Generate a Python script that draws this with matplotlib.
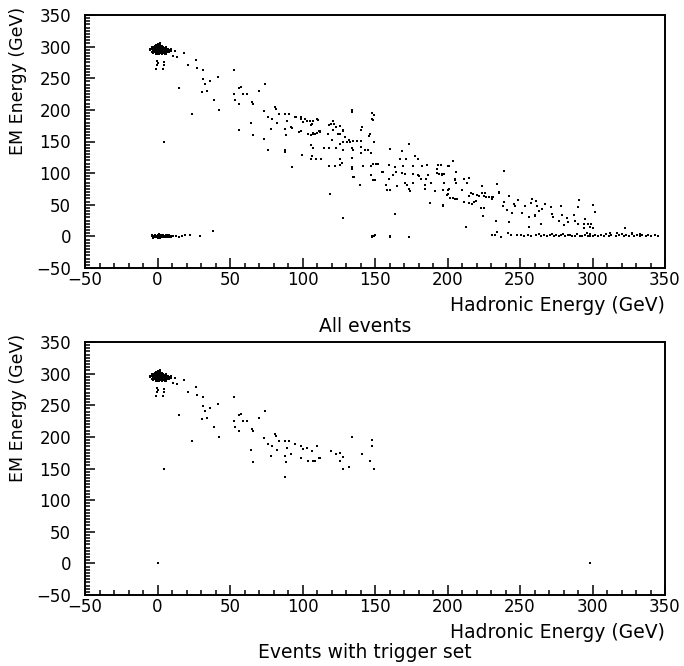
import numpy as np
import matplotlib
matplotlib.use("Agg")
import matplotlib.pyplot as plt
from matplotlib.ticker import MultipleLocator

# --- Datos: (Hadronic Energy, EM Energy) en GeV ---

# Eventos con trigger: nube densa cerca de (0, 295)
trig_cluster = [
    (-4, 296), (-3, 293), (-3, 299), (-2, 291), (-2, 296), (-2, 301), (-1, 288),
    (-1, 294), (-1, 298), (0, 290), (0, 293), (0, 296), (0, 300), (0, 304),
    (1, 289), (1, 292), (1, 295), (1, 298), (1, 302), (2, 290), (2, 294),
    (2, 297), (2, 300), (3, 288), (3, 292), (3, 295), (3, 299), (4, 290),
    (4, 293), (4, 296), (4, 300), (5, 291), (5, 295), (5, 298), (6, 289),
    (6, 293), (6, 297), (7, 291), (7, 295), (8, 293), (-5, 294), (9, 296),
    (2, 306), (-1, 303), (-4, 292), (-4, 299), (-3, 296), (-3, 290), (-2, 294),
    (-2, 298), (-1, 291), (-1, 296), (-1, 300), (0, 288), (0, 298), (0, 302),
    (1, 291), (1, 294), (1, 297), (1, 300), (2, 292), (2, 296), (2, 299),
    (2, 302), (3, 290), (3, 294), (3, 297), (3, 301), (4, 292), (4, 295),
    (4, 298), (5, 289), (5, 293), (5, 297), (6, 291), (6, 295), (6, 299),
    (7, 293), (7, 297), (8, 291), (8, 295), (-5, 297), (9, 293),
]

# Eventos con trigger: resto de puntos
trig_points = [
    (-0.1, 277.3), (0.6, 274.7), (4.5, 275.7), (-0.6, 270.5), (4.5, 270.5),
    (-1, 264), (4, 264), (12, 293), (18.5, 290), (13.6, 283.6), (11, 285),
    (26.6, 279), (21.2, 271), (27.4, 266.9), (31.2, 263), (31.2, 248.6),
    (36.2, 245), (32.8, 240.8), (41.7, 252), (15, 234), (33.9, 230.3),
    (31, 229), (39, 216), (42.6, 200), (23.6, 192.7), (4.5, 149.2),
    (52.8, 262.4), (57.4, 236.6), (56.5, 234), (52.8, 225), (53.2, 215.6),
    (61.5, 225), (59, 225), (56, 209.8), (65.2, 211.8), (66, 210),
    (69.8, 230.3), (74.4, 240.8), (73.4, 199), (81, 204.4), (81.5, 201),
    (76.2, 189), (78.7, 185.7), (84, 193.6), (87.7, 193.6), (91, 193.6),
    (82.6, 179.5), (89.3, 183.2), (64.3, 179), (66, 159.7), (78.1, 170),
    (88.1, 170), (88.6, 161), (88.1, 137), (94.6, 189.5), (99.2, 185.7),
    (100, 181), (103, 182.6), (106.6, 178.3), (109.8, 186), (92.3, 172.7),
    (99.2, 166), (107.5, 162.3), (112, 166.5), (119.4, 178), (123.1, 172.3),
    (126, 174), (125.9, 162.3), (134, 200.5), (147.9, 195.3), (147.9, 184.8),
    (146.6, 161.8), (149.3, 149.2), (131.8, 153), (128.2, 149.2),
    (128, 167.6), (140.8, 173.3), (111.6, 167), (108.6, 161.8), (104, 161.8),
    (0, 0), (298, 0),
]

# Resto de eventos (solo en "All events"): banda diagonal
band_points = [
    (76.2, 136.7), (87.7, 134), (73.4, 154.4), (56, 167.6), (92.8, 109.5),
    (95.3, 189), (99, 189), (101.7, 184.8), (105, 182), (107, 182),
    (110.9, 183.7), (106, 176.4), (92.8, 170.7), (97.6, 165.4), (107.5, 163.8),
    (110, 163.8), (112, 164.4), (105.6, 160), (118, 176), (121, 181.7),
    (121.5, 177), (134, 197.4), (149.3, 192), (148.8, 183.7), (120.8, 167.5),
    (117.8, 161.8), (120.3, 153), (128, 166), (124.6, 162.5), (129, 157.5),
    (131, 150), (132.8, 150), (134.5, 150.5), (140.1, 168.5), (137.3, 151.3),
    (140.5, 151.3), (145.9, 159), (149.3, 149.2), (106, 144.5), (107.5, 139.3),
    (115, 139.3), (118, 139.3), (123, 139.3), (125.6, 145.6), (128, 137),
    (134, 140), (135, 136), (140, 142), (140.5, 132.5), (143, 136),
    (145.5, 137), (147, 132.5), (99.7, 128.8), (106.3, 127.8), (109.5, 122.5),
    (112.5, 122.5), (106, 122.5), (125.9, 122.5), (118.6, 110.5),
    (122.3, 110.5), (125.6, 113), (127, 115.8), (134.4, 123.6), (134, 109),
    (135, 93.8), (141.5, 111), (147.5, 111), (148.8, 114.2), (150.7, 114.2),
    (152.3, 114.2), (147.2, 96.4), (139.7, 81.8), (155.3, 101.7),
    (160.3, 137.8), (159.8, 112.4), (167.2, 122.5), (168.6, 134.6),
    (173.4, 146), (171.4, 122.5), (169.5, 111), (164, 109.5), (164.5, 101),
    (177.6, 127.3), (179.7, 122.5), (175.9, 111), (182.4, 111), (185.6, 113.2),
    (180, 95), (193, 106), (196, 96.4), (194, 98), (200, 111), (193.5, 113),
    (119, 67.6), (128.2, 28.4), (163.6, 35.7), (188, 52.5), (197, 49.3),
    (134.1, 105.8), (135.7, 93.8), (154.8, 101.7), (148.8, 88.5),
    (150.2, 89), (147.4, 96.4), (157.6, 81.8), (158, 72.8), (160.3, 74),
    (159.9, 91.2), (162.6, 96.4), (165, 79.8), (168.6, 100.6), (171, 99),
    (170.6, 85), (172, 81.8), (173.2, 74.4), (174.1, 71.3), (176, 85),
    (176.4, 99), (179.7, 97.5), (181.5, 91.2), (184.3, 80.7), (184.3, 74.4),
    (185.2, 90), (186.6, 96.4), (188.4, 85), (191.2, 71.3), (192.5, 100.6),
    (196.2, 99), (197.6, 83.8), (200.8, 74.4), (200.3, 67.2), (201.7, 60.9),
    (195.3, 113.6), (201.2, 111), (204, 118.4), (205.9, 101.7),
    (197.5, 98), (205.2, 91.2), (205.5, 89), (197.6, 85), (205.9, 83.7),
    (211.4, 91.2), (214.8, 92.7), (213.2, 85), (197, 74), (200.6, 74),
    (199.9, 66), (203.8, 60), (205.2, 59.3), (206.6, 59.3), (210, 74),
    (216, 68.2), (217.3, 67.5), (214.6, 64), (220, 65), (221.4, 64.6),
    (223.6, 68.2), (225.8, 68.6), (225.4, 63.5), (226.7, 61.5), (211.4, 54.7),
    (214.6, 52), (216.8, 51), (218.1, 55), (219.5, 55.6), (222.9, 45.2),
    (225.2, 45.2), (228.6, 62), (230.4, 63), (230.8, 59.5), (231.6, 62),
    (235.7, 68), (235.7, 70.5), (239, 102.7), (234.3, 82.2), (223.8, 79),
    (196.7, 48.3), (224.3, 32), (212.8, 14.3), (233.4, 24.2), (233.8, 6.5),
    (238, 48.3), (238.9, 54.7), (242.2, 63.6), (241.3, 41.3), (244.5, 36.3),
    (242.2, 23.2), (241.7, 5), (248.6, 57.7), (246.7, 48.3), (245.8, 51.5),
    (251.2, 37.4), (253.4, 48.3), (256, 30.5), (256, 14.8), (258.3, 59.8),
    (257.4, 52), (260.1, 32.7), (260.1, 34.5), (261, 56), (262, 48.3),
    (263, 40), (264.3, 19), (265.2, 43), (267.5, 50.4), (271.6, 45.7),
    (272, 35.5), (273, 30), (276.7, 25), (278, 48.3), (279, 34),
    (280.4, 17.3), (282.6, 29), (283, 23.5), (287.2, 33.6), (287.7, 25),
    (290, 19.8), (290.5, 57.2), (290, 46.5), (295, 26.9), (294, 19.3),
    (297.1, 18.8), (299.2, 19.3), (300.6, 49.3), (301.5, 37.8), (294, 14),
    (298, 14.5), (300.6, 12.8), (322.4, 12.8), (296, 5), (312, 6),
    (317, 5.5), (327, 6), (333, 4.5),
]

# Resto de eventos: nube en EM ~ 0 y banda baja a la derecha
low_points = [
    (-4, 0), (-3, -1), (-3, 1), (-2, 0), (-2, 2), (-1, -1), (-1, 1), (0, -2),
    (0, 2), (1, -1), (1, 1), (2, 0), (2, -2), (2, 2), (3, -1), (3, 1), (4, 0),
    (4, 2), (5, -1), (5, 1), (6, 0), (6, 2), (7, -1), (7, 1), (8, 0), (9, 1),
    (10, 0), (-4, 1.5), (-3, -2), (-2, -1.5), (-1, 0), (0, 1), (1, 0),
    (1, 2.5), (2, -1), (3, 0), (3, 2.5), (4, -1.5), (5, 0), (6, -1.5), (7, 2),
    (8, -1), (8, 1.5), (9, -0.5), (11, 1), (12.5, 0.5), (15, -0.5), (17, 1),
    (19, 1.5), (22.4, 1.5), (29.3, 0), (38, 8.6), (1, 4.5), (147.7, 0.2),
    (149.2, 0.7), (150, 1.5), (148, -1.4), (160, -1.4), (160.4, 0.5),
    (173.2, -0.3), (247.7, 2.3),
    (230.4, 2.8), (233, 2.8), (237, -0.5), (243.6, 1.5), (250.5, 1.5),
    (252.6, 0.5), (255.5, 2.8), (257.5, 0.5), (260.8, 1.5), (263, 3.5),
    (264.5, 1), (266.8, 2.5), (268.8, 0.5), (270.5, 1.5), (272, 3),
    (273.5, 1), (275, 2), (276.6, 0), (278, 1.5), (279.8, 3), (281.2, 0.5),
    (283, 1.5), (284.4, 2.5), (286, 0), (288, 1), (289.6, 3.2), (291.4, 1),
    (293, 0.2), (295, 2.2), (296.8, 1), (298.5, 3.5), (300, 0.5), (302, 1.5),
    (304, 0), (306, 2.5), (308, 1), (309.6, 3), (311.3, 0), (313, 1.5),
    (316, 0.5), (318.4, 2), (320, 4), (321.8, 1), (323.4, 2.5), (325, 0),
    (327, 3), (328.7, 1), (330.4, 2), (332.6, 0.5), (334.2, 1.5),
    (336.7, 0), (338.5, 2), (340.4, 0.8), (342.8, 1.5), (345, 0.5),
]

X_TICKS = [-50, 0, 50, 100, 150, 200, 250, 300, 350]
Y_TICKS = [-50, 0, 50, 100, 150, 200, 250, 300, 350]

W, H = 684, 666
AX_LEFT, AX_RIGHT, AX_H = 85, 665, 253


def fx(px):
    return px / W


def fy(py):
    return 1 - py / H


def style_axes(ax):
    ax.set_xlim(-50, 350)
    ax.set_ylim(-50, 350)
    ax.set_xticks(X_TICKS)
    ax.set_yticks(Y_TICKS)
    ax.xaxis.set_minor_locator(MultipleLocator(10))
    ax.yaxis.set_minor_locator(MultipleLocator(5))
    ax.tick_params(which="both", direction="in", top=False, right=False,
                   labelsize=12, width=1.1)
    ax.tick_params(which="major", length=7)
    ax.tick_params(which="minor", length=3.5)
    ax.tick_params(axis="y", pad=10)
    ax.tick_params(axis="x", pad=2)
    for s in ax.spines.values():
        s.set_linewidth(1.4)


plt.rcParams["font.family"] = "DejaVu Sans"
fig = plt.figure(figsize=(W / 100, H / 100), dpi=100)

trig = np.array(trig_cluster + trig_points)
extra = np.array(band_points + low_points)
all_ev = np.vstack([trig, extra])

panels = [
    (15, all_ev, "All events"),
    (342, trig, "Events with trigger set"),
]

for top_px, pts, title in panels:
    bottom_px = top_px + AX_H
    ax = fig.add_axes([fx(AX_LEFT), fy(bottom_px), fx(AX_RIGHT) - fx(AX_LEFT),
                       AX_H / H])
    ax.scatter(pts[:, 0], pts[:, 1], s=3.5, c="black", marker="s", linewidths=0)
    style_axes(ax)
    fig.text(fx(AX_RIGHT), fy(bottom_px + 37), "Hadronic Energy (GeV)",
             ha="right", va="center", fontsize=13.5)
    fig.text(fx(365), fy(bottom_px + 58), title, ha="center", va="center",
             fontsize=13.5)
    fig.text(fx(18), fy(top_px - 8), "EM Energy (GeV)", rotation=90,
             ha="center", va="top", fontsize=12.5)

fig.savefig("out.png", dpi=100)
